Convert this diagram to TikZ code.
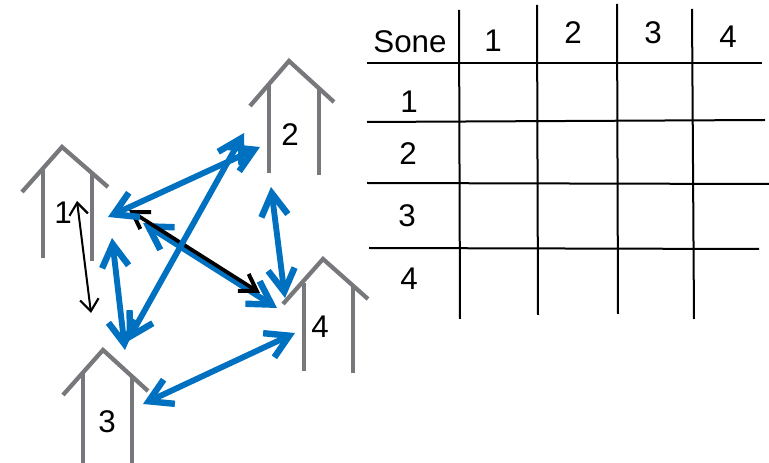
\documentclass[tikz,border=0pt]{standalone}
\usepackage{fontspec}
\setmainfont{Liberation Sans}
\usetikzlibrary{arrows.meta}
\definecolor{hgray}{HTML}{77787B}
\definecolor{ablue}{HTML}{0070C0}
\tikzset{
  x=0.75pt,y=-0.75pt,
  wall/.style={draw=hgray,line width=3.2pt},
  roof/.style={draw=hgray,line width=3.2pt,line join=miter},
  bluetip/.tip={Straight Barb[length=17pt,width=20pt,line width=4.8pt]},
  blacktip/.tip={Straight Barb[length=12pt,width=15pt,line width=3pt]},
  thintip/.tip={Straight Barb[length=9pt,width=14pt,line width=1.6pt]},
  bluearrow/.style={draw=ablue,line width=4.4pt,bluetip-bluetip},
  blackthick/.style={draw=black,line width=2.8pt,blacktip-blacktip},
  blackthin/.style={draw=black,line width=1.5pt,thintip-thintip},
  rule/.style={draw=black,line width=1.5pt},
  lab/.style={inner sep=0pt,font=\fontsize{23.5}{24}\selectfont}
}
\begin{document}
\begin{tikzpicture}
\useasboundingbox (0,0) rectangle (769,463);
% house 1
\coordinate (h1a) at (22,192); \coordinate (h1b) at (62,147); \coordinate (h1c) at (108,187);
\coordinate (h1d) at (43,170); \coordinate (h1e) at (43,258); \coordinate (h1f) at (92,173); \coordinate (h1g) at (92,261);
\draw[roof] (h1a) -- (h1b) -- (h1c); \draw[wall] (h1d) -- (h1e); \draw[wall] (h1f) -- (h1g);
% house 2
\coordinate (h2a) at (250,106); \coordinate (h2b) at (289,61); \coordinate (h2c) at (334,102);
\coordinate (h2d) at (269,83); \coordinate (h2e) at (269,173); \coordinate (h2f) at (319,87); \coordinate (h2g) at (319,175);
\draw[roof] (h2a) -- (h2b) -- (h2c); \draw[wall] (h2d) -- (h2e); \draw[wall] (h2f) -- (h2g);
% house 3
\coordinate (h3a) at (63,395); \coordinate (h3b) at (103,350); \coordinate (h3c) at (148,391);
\coordinate (h3d) at (83,372); \coordinate (h3e) at (83,463); \coordinate (h3f) at (132,377); \coordinate (h3g) at (132,463);
\draw[roof] (h3a) -- (h3b) -- (h3c); \draw[wall] (h3d) -- (h3e); \draw[wall] (h3f) -- (h3g);
% house 4
\coordinate (h4a) at (283,304); \coordinate (h4b) at (323,259); \coordinate (h4c) at (368,299);
\coordinate (h4d) at (304,283); \coordinate (h4e) at (304,371); \coordinate (h4f) at (353,285); \coordinate (h4g) at (353,373);
\draw[roof] (h4a) -- (h4b) -- (h4c); \draw[wall] (h4d) -- (h4e); \draw[wall] (h4f) -- (h4g);
% house labels
\node[lab] (n1) at (63,213) {1};
\node[lab] (n2) at (290,135) {2};
\node[lab] (n3) at (107,422) {3};
\node[lab] (n4) at (320,327) {4};
% arrow ends
\coordinate (a1) at (108,217); \coordinate (a2) at (260,147);
\coordinate (b1) at (244,133); \coordinate (b2) at (127,342);
\coordinate (c1) at (112,238); \coordinate (c2) at (125,350);
\coordinate (d1) at (143,223); \coordinate (d2) at (277,308);
\coordinate (e1) at (271,187); \coordinate (e2) at (285,298);
\coordinate (f1) at (143,404); \coordinate (f2) at (295,333);
\coordinate (g1) at (129,210); \coordinate (g2) at (260,293);
\coordinate (k1) at (77,201); \coordinate (k2) at (91,313);
\draw[blackthin] (k1) -- (k2);
\draw[bluearrow] (d1) -- (d2);
\draw[blackthick] (g1) -- (g2);
\draw[bluearrow] (a1) -- (a2);
\draw[bluearrow] (b1) -- (b2);
\draw[bluearrow] (c1) -- (c2);
\draw[bluearrow] (e1) -- (e2);
\draw[bluearrow] (f1) -- (f2);
% table
\coordinate (v1a) at (459,10); \coordinate (v1b) at (460,319);
\coordinate (v2a) at (537,5); \coordinate (v2b) at (538,315);
\coordinate (v3a) at (617,4); \coordinate (v3b) at (618,314);
\coordinate (v4a) at (692,9); \coordinate (v4b) at (694,319);
\coordinate (r1a) at (367,63); \coordinate (r1b) at (762,63);
\coordinate (r2a) at (367,122); \coordinate (r2b) at (765,120);
\coordinate (r3a) at (367,183); \coordinate (r3b) at (769,184);
\coordinate (r4a) at (369,248); \coordinate (r4b) at (759,249);
\foreach \k in {v1,v2,v3,v4,r1,r2,r3,r4} \draw[rule] (\k a) -- (\k b);
\node[lab] (sone) at (410,42) {Sone};
\node[lab] (c1t) at (493,41) {1};
\node[lab] (c2t) at (573,33) {2};
\node[lab] (c3t) at (653,33) {3};
\node[lab] (c4t) at (728,37) {4};
\node[lab] (r1t) at (409,102) {1};
\node[lab] (r2t) at (408,154) {2};
\node[lab] (r3t) at (407,216) {3};
\node[lab] (r4t) at (409,279) {4};
\end{tikzpicture}
\end{document}
